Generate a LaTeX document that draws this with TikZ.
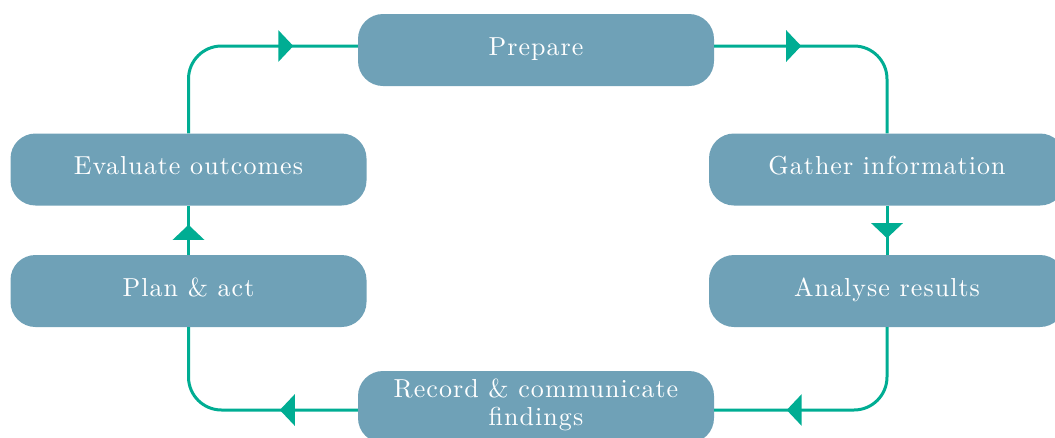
\documentclass[tikz,border=0pt]{standalone}
\usepackage{fontspec}
\setmainfont{lmroman10-regular}[Extension=.otf, LetterSpace=4]
\usetikzlibrary{arrows.meta,decorations.markings}
\definecolor{stepfill}{HTML}{6FA1B7}
\definecolor{flowline}{HTML}{00AD93}
\begin{document}
\begin{tikzpicture}[x=1pt,y=-1pt,
  stage/.style={fill=stepfill, draw=none, rounded corners=25pt,
    minimum width=356pt, minimum height=72pt, inner sep=0pt,
    text=white, font=\fontsize{26}{28}\selectfont,
    text height=17pt, text depth=7pt},
  flow/.style={draw=flowline, color=flowline, line width=3pt, rounded corners=33pt},
  tipat/.style={postaction={decorate}, decoration={markings,
    mark=at position #1 with {\arrow{Triangle[length=15pt,width=31pt]}}}}
]
\useasboundingbox (0,0) rectangle (1055,437);
\clip (0,0) rectangle (1055,437);

% the six stages of the cycle
\node[stage] (prep) at (536,50)    {Prepare};
\node[stage] (gath) at (887,169.5) {Gather information};
\node[stage] (anal) at (887,291)   {Analyse results};
\node[stage, text depth=37pt] (rec) at (536,407)
  {\begin{tabular}[t]{@{}c@{}}Record \& communicate\\findings\end{tabular}};
\node[stage] (plan) at (188.5,291)   {Plan \& act};
\node[stage] (eval) at (188.5,169.5) {Evaluate outcomes};

% connectors running clockwise round the cycle
\draw[flow, tipat=178pt]  (eval.north) |- ([yshift=4pt]prep.west);
\draw[flow, tipat=87pt]   ([yshift=4pt]prep.east) -| (gath.north);
\draw[flow, tipat=32.5pt] (gath.south) -- (anal.north);
\draw[flow, tipat=169pt]  (anal.south) |- ([yshift=-3pt]rec.east);
\draw[flow, tipat=78pt]   ([yshift=-3pt]rec.west) -| (plan.south);
\draw[flow, tipat=30pt]   (plan.north) -- (eval.south);
\end{tikzpicture}
\end{document}
